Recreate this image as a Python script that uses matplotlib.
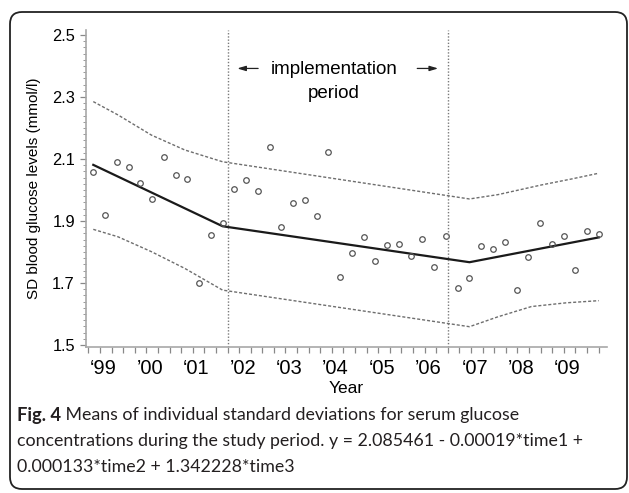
import numpy as np
import matplotlib
matplotlib.use("Agg")
import matplotlib.pyplot as plt
from matplotlib.patches import FancyBboxPatch
from matplotlib.ticker import FixedLocator, MultipleLocator

# ---------------- data ----------------
quarter_index = np.arange(44)
time = 1999.107 + 0.2534 * quarter_index          # quarterly measurement times (years)
sd_glucose = [2.059, 1.920, 2.091, 2.075, 2.024, 1.972, 2.107, 2.048, 2.035, 1.700,
              1.856, 1.895, 2.004, 2.031, 1.998, 2.139, 1.882, 1.958, 1.967, 1.915,
              2.123, 1.718, 1.797, 1.848, 1.772, 1.822, 1.827, 1.788, 1.841, 1.753,
              1.851, 1.684, 1.717, 1.819, 1.810, 1.833, 1.677, 1.783, 1.893, 1.825,
              1.853, 1.742, 1.868, 1.857]

fit_x = [1999.107, 2001.894, 2007.216, 2010.002]
fit_y = [2.081, 1.883, 1.767, 1.847]

upper_x = [1999.107, 1999.64, 2000.36, 2001.08, 2001.894, 2007.216, 2007.83, 2008.76, 2009.40, 2010.002]
upper_y = [2.285, 2.242, 2.177, 2.129, 2.091, 1.971, 1.985, 2.016, 2.035, 2.054]
lower_x = [1999.107, 1999.64, 2000.36, 2001.08, 2001.894, 2007.216, 2007.83, 2008.55, 2009.30, 2010.002]
lower_y = [1.873, 1.849, 1.801, 1.747, 1.677, 1.559, 1.591, 1.624, 1.636, 1.643]

period_bounds = [2002.0, 2006.76]

year_labels = ["\u201899", "\u201900", "\u201801", "\u201902", "\u201803", "\u201904",
               "\u201805", "\u201906", "\u201807", "\u201908", "\u201809"]
year_label_pos = [y + 0.33 for y in range(1999, 2010)]
y_ticks = [1.5, 1.7, 1.9, 2.1, 2.3, 2.5]

caption_bold = "Fig. 4"
caption_lines = [" Means of individual standard deviations for serum glucose",
                 "concentrations during the study period. y = 2.085461 - 0.00019*time1 +",
                 "0.000133*time2 + 1.342228*time3"]

# ---------------- figure ----------------
W, H = 629, 493
fig = plt.figure(figsize=(W / 100, H / 100), dpi=100)

bg = fig.add_axes([0, 0, 1, 1], zorder=-5)
bg.set_xlim(0, W)
bg.set_ylim(H, 0)
bg.axis("off")
box = FancyBboxPatch((10, 12), 617, 477, boxstyle="round,pad=0,rounding_size=12",
                     fc="white", ec="#222222", lw=1.3)
bg.add_patch(box)

ax = fig.add_axes([86 / W, 1 - 346.7 / H, (607 - 86) / W, (346.7 - 30) / H])
ax.set_xlim(1998.95, 2010.18)
ax.set_ylim(1.4945, 2.516)

font = "Liberation Sans"

ax.plot(upper_x, upper_y, color="#6e6e6e", lw=1.0, dashes=(2.2, 1.4))
ax.plot(lower_x, lower_y, color="#6e6e6e", lw=1.0, dashes=(2.2, 1.4))
ax.plot(fit_x, fit_y, color="#1a1a1a", lw=1.6, solid_joinstyle="miter")
ax.plot(time, sd_glucose, ls="none", marker="o", ms=4.0, mfc="none",
        mec="#555555", mew=0.9)
for xb in period_bounds:
    ax.axvline(xb, color="#7a7a7a", lw=1.0, ls=(0, (1, 1.3)))

for s in ["top", "right"]:
    ax.spines[s].set_visible(False)
for s in ["left", "bottom"]:
    ax.spines[s].set_color("#a8a8a8")
    ax.spines[s].set_linewidth(1.2)

ax.xaxis.set_major_locator(FixedLocator(year_label_pos))
ax.set_xticklabels(year_labels, fontsize=14.5, family=font)
ax.xaxis.set_minor_locator(FixedLocator(np.arange(1999.0, 2010.01, 0.25)))
ax.tick_params(axis="x", which="major", length=0, pad=9)
ax.tick_params(axis="x", which="minor", length=4, width=0.9, color="#888888")

ax.yaxis.set_major_locator(FixedLocator(y_ticks))
ax.set_yticklabels([f"{v:.1f}" for v in y_ticks], fontsize=11.8, family=font)
ax.yaxis.set_minor_locator(MultipleLocator(0.02))
ax.tick_params(axis="y", which="major", length=4, width=0.9, color="#888888", pad=4)
ax.tick_params(axis="y", which="minor", length=2, width=0.7, color="#999999")

ax.set_xlabel("Year", fontsize=12.5, family=font, labelpad=2)
ax.set_ylabel("SD blood glucose levels (mmol/l)", fontsize=11, family=font)
ax.yaxis.set_label_coords(-0.086, 0.5)

# annotation
ax.text(2004.3, 2.390, "implementation", ha="center", va="center", fontsize=13.5, family=font)
ax.text(2004.3, 2.312, "period", ha="center", va="center", fontsize=13.5, family=font)
ax.annotate("", xy=(2002.15, 2.392), xytext=(2002.72, 2.392),
            arrowprops=dict(arrowstyle="-|>,head_length=0.5,head_width=0.15", color="#222222", lw=0.9))
ax.annotate("", xy=(2006.6, 2.392), xytext=(2006.03, 2.392),
            arrowprops=dict(arrowstyle="-|>,head_length=0.5,head_width=0.15", color="#222222", lw=0.9))

# caption
cap_font = "Lato"
cap_size = 12.8
t0 = fig.text(17 / W, 1 - 415 / H, caption_bold, fontsize=cap_size + 0.4, family=cap_font,
              weight="bold", va="center", color="#231f20")
bg.annotate(caption_lines[0], xy=(1, 0.5), xycoords=t0, va="center", ha="left",
            fontsize=cap_size, family=cap_font, color="#231f20")
fig.text(17 / W, 1 - 441 / H, caption_lines[1], fontsize=cap_size, family=cap_font,
         va="center", color="#231f20")
fig.text(17 / W, 1 - 467 / H, caption_lines[2], fontsize=cap_size, family=cap_font,
         va="center", color="#231f20")

fig.savefig("out.png", dpi=100)
